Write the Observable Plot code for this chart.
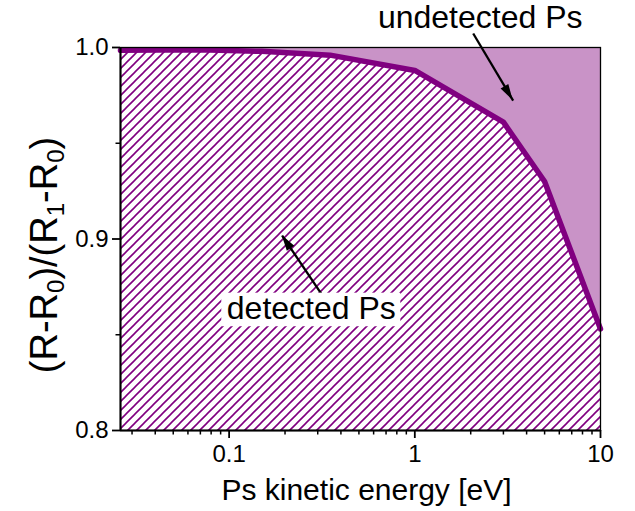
<!DOCTYPE html>
<html><head><meta charset="utf-8">
<script src="https://cdn.jsdelivr.net/npm/d3@7"></script>
<script src="https://cdn.jsdelivr.net/npm/@observablehq/plot@0.6"></script>
<style>
body{margin:0;background:#fff;}
svg{font-family:"Liberation Sans",Arial,sans-serif;}
</style></head><body><div id="chart"></div>
<script>
// ---- data ----
const energy = [0.026, 0.07, 0.15, 0.35, 1, 3, 5, 10];
const ratio  = [0.9985, 0.9988, 0.998, 0.996, 0.988, 0.961, 0.930, 0.853];
const xDomain = [0.026, 10];
const yDomain = [0.8, 1.0];
const xMajorTicks = [0.1, 1, 10];
const xMinorTicks = [0.03,0.04,0.05,0.06,0.07,0.08,0.09,0.2,0.3,0.4,0.5,0.6,0.7,0.8,0.9,2,3,4,5,6,7,8,9];
const yMajorTicks = [0.8, 0.9, 1.0];
const yMinorTicks = [0.85, 0.95];
const xLabel = "Ps kinetic energy [eV]";
const annotationText = ["undetected Ps", "detected Ps"];
const annotationX = [2.25, 0.277];
const annotationY = [1.0153, 0.8637];
const arrowX1 = [2.063, 0.3126];
const arrowY1 = [1.0073, 0.8716];
const arrowX2 = [3.385, 0.193];
const arrowY2 = [0.9723, 0.9018];

const curve = energy.map((e, i) => ({e, r: ratio[i]}));
const notes = annotationText.map((t, i) => ({t, x: annotationX[i], y: annotationY[i]}));
const arrows = arrowX1.map((x1, i) => ({x1, y1: arrowY1[i], x2: arrowX2[i], y2: arrowY2[i]}));

const purple = "#800080";
const lightPurple = "#c993c7";
const noteSize = 32;
const xFmt = d => String(d);
const yFmt = d3.format(".1f");

const chart = Plot.plot({
  width: 635, height: 511,
  marginLeft: 120, marginRight: 35, marginTop: 47, marginBottom: 81,
  style: {fontFamily: '"Liberation Sans", Arial, sans-serif', fontSize: "24px", background: "white", color: "black"},
  x: {type: "log", domain: xDomain},
  y: {domain: yDomain},
  marks: [
    Plot.areaY(curve, {x: "e", y1: () => yDomain[0], y2: "r", fill: "url(#hatch)"}),
    Plot.areaY(curve, {x: "e", y1: "r", y2: () => yDomain[1], fill: lightPurple}),
    Plot.line(curve, {x: "e", y: "r", stroke: purple, strokeWidth: 5.5, strokeLinejoin: "miter"}),
    Plot.frame({stroke: "black", strokeWidth: 1.3}),
    Plot.ruleY([yDomain[0]], {stroke: "black", strokeWidth: 2}),
    Plot.ruleX([xDomain[0]], {stroke: "black", strokeWidth: 2}),
    Plot.axisX(xMajorTicks, {tickSize: 8, tickPadding: 6, fontSize: 24, strokeWidth: 1.8, tickFormat: xFmt, label: null}),
    Plot.axisX(xMinorTicks, {tickSize: 4.5, strokeWidth: 1.5, tickFormat: () => "", label: null}),
    Plot.axisY(yMajorTicks, {tickSize: 8, tickPadding: 4, fontSize: 24, strokeWidth: 1.8, tickFormat: yFmt, label: null}),
    Plot.axisY(yMinorTicks, {tickSize: 4.5, strokeWidth: 1.5, tickFormat: () => "", label: null}),
    Plot.link(arrows, {x1: "x1", y1: "y1", x2: "x2", y2: "y2", stroke: "black", strokeWidth: 2.3}),
    Plot.text(notes, {x: "x", y: "y", text: "t", fontSize: noteSize, fill: "black", lineAnchor: "middle", textAnchor: "middle"}),
    Plot.text([xLabel], {text: d => d, frameAnchor: "bottom", dy: 60, dx: 6, fontSize: 30, fill: "black", lineAnchor: "middle"})
  ]
});

document.getElementById("chart").appendChild(chart);

const svg = d3.select(chart);
const defs = svg.insert("defs", ":first-child");
const pat = defs.append("pattern").attr("id", "hatch").attr("patternUnits", "userSpaceOnUse")
  .attr("width", 9).attr("height", 9);
pat.append("rect").attr("width", 9).attr("height", 9).attr("fill", "white");
pat.append("path").attr("d", "M-2,2 L2,-2 M0,9 L9,0 M7,11 L11,7")
  .attr("stroke", purple).attr("stroke-width", 1.6).attr("fill", "none");

// tick label font size (force)
const tickTexts = new Set([...xMajorTicks.map(xFmt), ...yMajorTicks.map(yFmt)]);
svg.selectAll("text").each(function() {
  if (tickTexts.has(this.textContent)) {
    this.setAttribute("font-size", "24");
    this.style.fontSize = "24px";
    if (this.parentNode) this.parentNode.style.fontSize = "24px";
  }
});

const sx = chart.scale("x"), sy = chart.scale("y");
const noteGroup = chart.querySelector('g[aria-label="text"]');

// white box behind "detected Ps"
const cv = document.createElement("canvas").getContext("2d");
cv.font = noteSize + 'px "Liberation Sans", Arial, sans-serif';
{
  const n = notes[1];
  const w = cv.measureText(n.t).width;
  const cx = sx.apply(n.x), cy = sy.apply(n.y);
  const base = cy + 0.32 * noteSize;
  const r = document.createElementNS("http://www.w3.org/2000/svg", "rect");
  r.setAttribute("x", cx - w / 2 - 5);
  r.setAttribute("y", base - 0.8 * noteSize);
  r.setAttribute("width", w + 10);
  r.setAttribute("height", 0.8 * noteSize + 8);
  r.setAttribute("fill", "white");
  chart.insertBefore(r, noteGroup);
}

// filled arrow heads
for (const a of arrows) {
  const x1 = sx.apply(a.x1), y1 = sy.apply(a.y1), x2 = sx.apply(a.x2), y2 = sy.apply(a.y2);
  const dx = x2 - x1, dy = y2 - y1, L = Math.hypot(dx, dy);
  const ux = dx / L, uy = dy / L, len = 16, hw = 4.5;
  const bx = x2 - ux * len, by = y2 - uy * len;
  const p = document.createElementNS("http://www.w3.org/2000/svg", "path");
  p.setAttribute("d", `M${x2},${y2}L${bx - uy * hw},${by + ux * hw}L${bx + uy * hw},${by - ux * hw}Z`);
  p.setAttribute("fill", "black");
  chart.insertBefore(p, noteGroup);
}

// y label with subscripts
const yl = svg.append("text")
  .attr("transform", "translate(57,255) rotate(-90)")
  .attr("text-anchor", "middle")
  .attr("fill", "black")
  .style("font-size", "38px");
const parts = [["(R-R", 0], ["0", 1], [")/(R", 0], ["1", 1], ["-R", 0], ["0", 1], [")", 0]];
let shifted = false;
for (const [s, sub] of parts) {
  const ts = yl.append("tspan").text(s);
  if (sub) { ts.style("font-size", "24px").attr("dy", 7); shifted = true; }
  else if (shifted) { ts.attr("dy", -7); shifted = false; }
}
</script></body></html>
